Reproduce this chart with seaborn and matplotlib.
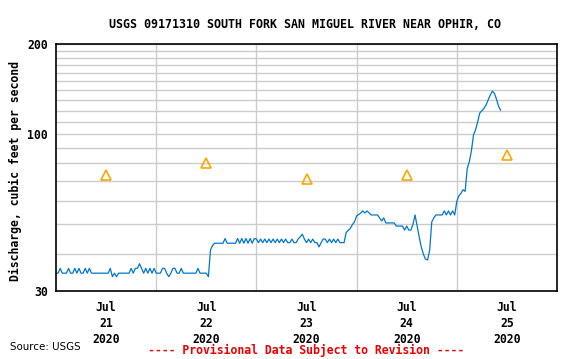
import pandas as pd
import numpy as np
import matplotlib
matplotlib.use("Agg")
import matplotlib.pyplot as plt
import matplotlib.dates as mdates
from matplotlib.ticker import FixedLocator, NullFormatter
import seaborn as sns

sns.set_style('white')
plt.rcParams['font.family'] = ['DejaVu Sans Mono', 'DejaVu Sans']
plt.rcParams['text.color'] = 'black'
plt.rcParams['xtick.color'] = 'black'
plt.rcParams['ytick.color'] = 'black'

# half-hourly discharge (cfs), Jul 21 00:00 onward
jul21 = [34.4, 34.4, 35.7, 34.4, 34.4, 34.4, 35.7, 34.4, 34.4, 35.7, 34.4, 35.7,
         34.4, 34.4, 35.7, 34.4, 35.7, 34.4, 34.4, 34.4, 34.4, 34.4, 34.4, 34.4,
         34.4, 34.4, 35.7, 33.5, 34.4, 33.5, 34.4, 34.4, 34.4, 34.4, 34.4, 34.4,
         35.7, 34.4, 35.7, 35.7, 37.0, 35.7, 34.4, 35.7, 34.4, 35.7, 34.4, 35.7]
jul22 = [34.4, 34.4, 34.4, 35.7, 35.7, 34.4, 33.5, 34.4, 35.7, 35.7, 34.4, 34.4,
         35.7, 34.4, 34.4, 34.4, 34.4, 34.4, 34.4, 34.4, 35.7, 34.4, 34.4, 34.4,
         34.4, 33.5, 41.1, 42.6, 43.3, 43.3, 43.3, 43.3, 43.3, 44.9, 43.3, 43.3,
         43.3, 43.3, 43.3, 44.9, 43.3, 44.9, 43.3, 44.9, 43.3, 44.9, 43.3, 44.9]
jul23 = [44.7, 43.5, 44.7, 43.5, 44.7, 43.5, 44.7, 43.5, 44.7, 43.5, 44.7, 43.5,
         44.7, 43.5, 44.7, 43.5, 43.5, 44.7, 43.5, 43.5, 44.7, 45.5, 46.4, 44.7,
         43.5, 44.7, 43.5, 44.7, 43.5, 43.5, 42.1, 43.5, 44.7, 44.7, 43.5, 44.7,
         43.5, 44.7, 43.5, 44.7, 43.5, 43.5, 43.5, 47.0, 47.8, 48.5, 50.0, 51.0]
jul24 = [53.4, 54.0, 54.6, 55.5, 54.6, 55.5, 54.6, 53.8, 53.8, 53.8, 53.8, 52.6,
         51.4, 52.6, 50.6, 50.6, 50.6, 50.6, 50.6, 49.4, 49.4, 49.4, 49.4, 47.9,
         49.4, 47.9, 47.9, 50.0, 53.8, 49.4, 45.4, 42.0, 39.8, 38.3, 38.1, 41.0,
         51.0, 52.6, 53.8, 53.8, 53.8, 53.8, 55.5, 53.8, 55.5, 53.8, 55.5, 53.8]
jul25 = [59.7, 62.3, 63.5, 65.3, 64.5, 77.0, 81.0, 88.0, 99.5, 103.5, 110.0,
         117.7, 119.9, 122.0, 125.2, 130.0, 135.0, 139.3, 137.0, 131.0, 124.0, 120.2]

flow = jul21 + jul22 + jul23 + jul24 + jul25
times = pd.date_range('2020-07-21 00:00', periods=len(flow), freq='30min')
df = pd.DataFrame({'time': times, 'discharge': flow})

# daily median statistic (triangles), plotted at noon
stat_days = pd.to_datetime(['2020-07-21 12:00', '2020-07-22 12:00', '2020-07-23 12:00',
                            '2020-07-24 12:00', '2020-07-25 12:00'])
stat_vals = [73.0, 80.0, 71.0, 73.0, 85.0]
day_labels = ['Jul\n21\n2020', 'Jul\n22\n2020', 'Jul\n23\n2020', 'Jul\n24\n2020', 'Jul\n25\n2020']

fig = plt.figure(figsize=(5.69, 3.59), dpi=100)
ax = fig.add_axes([56/569, 1-291/359, 501/569, 247/359])

sns.lineplot(data=df, x='time', y='discharge', ax=ax, color='#0077cc', linewidth=0.9)
ax.plot(stat_days, stat_vals, linestyle='none', marker='^', markersize=7,
        markerfacecolor='none', markeredgecolor='#ffa500', markeredgewidth=1.2)

ax.set_yscale('log')
ax.set_ylim(30, 200)
ax.yaxis.set_major_locator(FixedLocator([30, 100, 200]))
ax.set_yticklabels(['30', '100', '200'])
ax.yaxis.set_minor_locator(FixedLocator([40, 50, 60, 70, 80, 90, 110, 120, 130, 140,
                                         150, 160, 170, 180, 190]))
ax.yaxis.set_minor_formatter(NullFormatter())

ax.set_xlim(pd.Timestamp('2020-07-21'), pd.Timestamp('2020-07-26'))
ax.set_xticks(stat_days)
ax.set_xticklabels(day_labels, linespacing=1.3)
ax.xaxis.set_minor_locator(FixedLocator(mdates.date2num(
    pd.date_range('2020-07-22', '2020-07-25', freq='D'))))

ax.grid(which='minor', axis='both', color='#cccccc', linewidth=1.0)
ax.grid(which='major', axis='y', color='#cccccc', linewidth=1.0)
ax.grid(which='major', axis='x', visible=False)
ax.tick_params(which='both', length=0)
ax.tick_params(axis='y', pad=6)
ax.tick_params(axis='x', pad=7)
for lab in ax.get_xticklabels() + ax.get_yticklabels():
    lab.set_fontsize(8.3)
    lab.set_fontweight('bold')
for sp in ax.spines.values():
    sp.set_color('black')
    sp.set_linewidth(1.2)
ax.set_xlabel('')
ax.set_ylabel('')

fig.text(15/569, 1-171/359, 'Discharge, cubic feet per second', rotation=90,
         ha='center', va='center', fontsize=8.3, fontweight='bold')
fig.text(305/569, 1-24/359, 'USGS 09171310 SOUTH FORK SAN MIGUEL RIVER NEAR OPHIR, CO',
         ha='center', va='center', fontsize=8.4, fontweight='bold')
fig.text(10/569, 1-347/359, 'Source: USGS', ha='left', va='center',
         fontsize=7.4, family='DejaVu Sans', fontweight='medium')
fig.text(306/569, 1-350/359, '---- Provisional Data Subject to Revision ----',
         ha='center', va='center', fontsize=8.3, fontweight='bold', color='#ee0000')

fig.savefig('out.png', dpi=100)
